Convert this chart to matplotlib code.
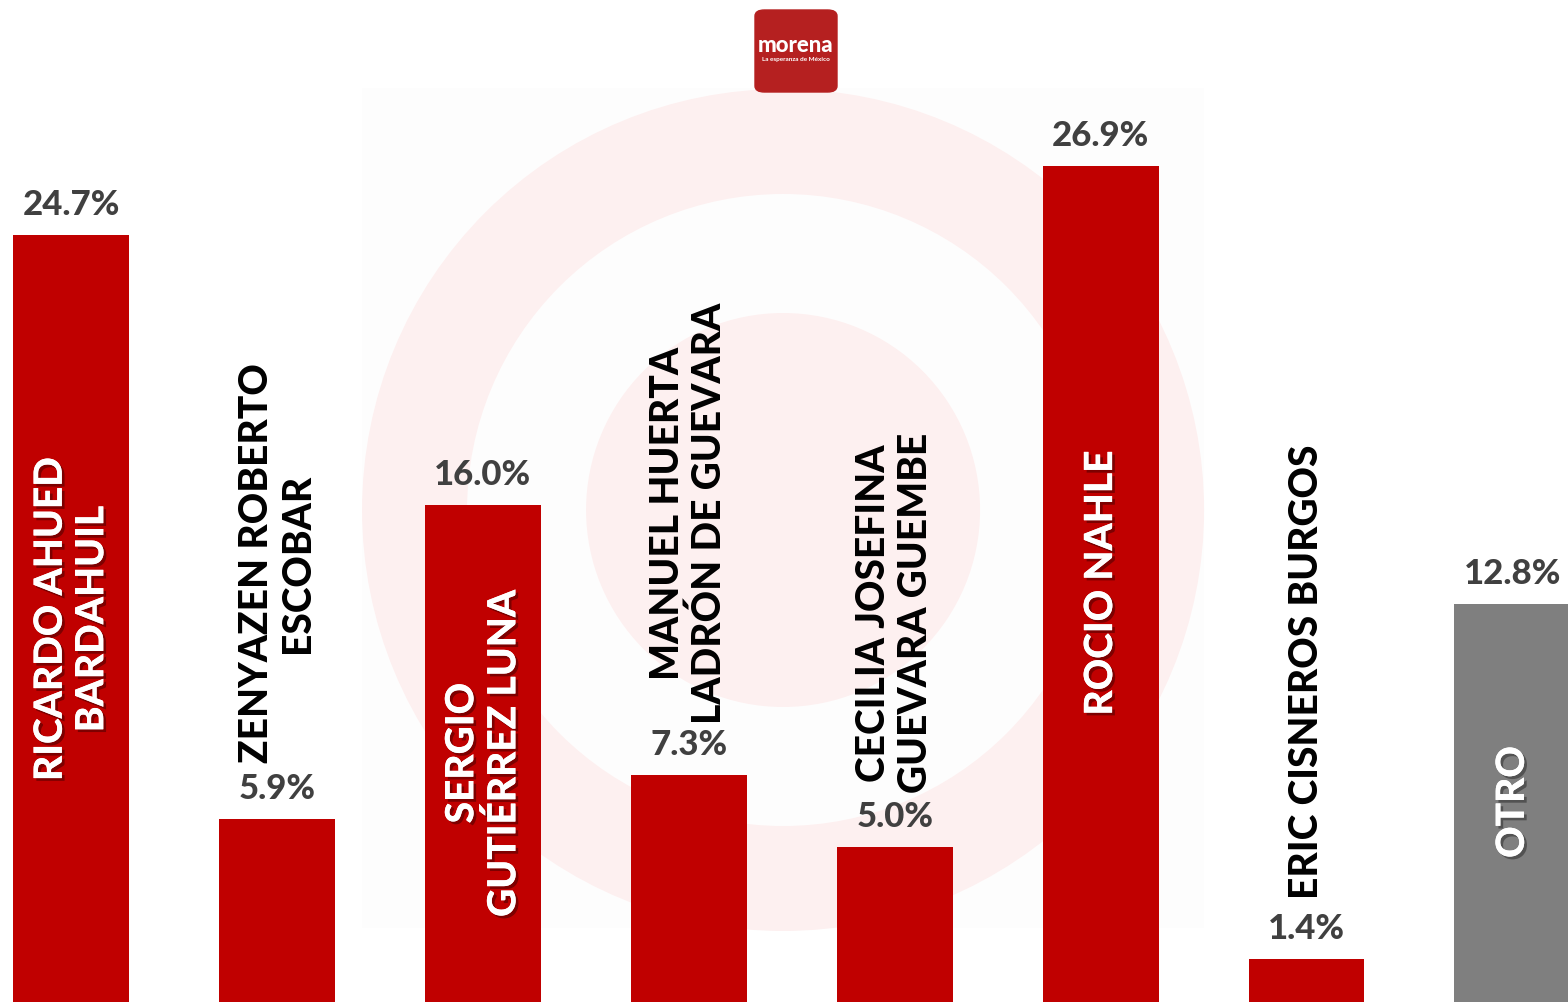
import matplotlib.pyplot as plt
import matplotlib.patheffects as pe
from matplotlib.patches import Rectangle, Ellipse, FancyBboxPatch

names = ['RICARDO AHUED\nBARDAHUIL', 'ZENYAZEN ROBERTO\nESCOBAR', 'SERGIO\nGUTIÉRREZ LUNA',
         'MANUEL HUERTA\nLADRÓN DE GUEVARA', 'CECILIA JOSEFINA\nGUEVARA GUEMBE',
         'ROCIO NAHLE', 'ERIC CISNEROS BURGOS', 'OTRO']
values = [24.7, 5.9, 16.0, 7.3, 5.0, 26.9, 1.4, 12.8]
colors = ['#c00000'] * 7 + ['#7f7f7f']

# name label: inside bar (white) or above (black), and vertical centre (data units)
inside = [True, False, True, False, False, True, False, True]
name_y = [12.33, 14.13, 8.01, 15.74, 12.52, 13.49, 10.62, 6.44]

fig = plt.figure(figsize=(15.68, 10.02), dpi=100)
ax = fig.add_axes([0, 0, 1, 1])
ax.set_xlim(-0.345, 7.27)
ax.set_ylim(0, 32.25)
ax.axis('off')

# background target
sx = 1 / 205.9
sy = 32.25 / 1002
cx, cy = (783 - 71) * sx, (1002 - 510) * sy
ax.add_patch(Rectangle(((362 - 71) * sx, (1002 - 928) * sy), 842 * sx, 840 * sy,
                       color='#fdfdfd', zorder=0, lw=0))
for r, c in [(421, '#fdf0f0'), (316, '#fdfdfd'), (197, '#fdf0f0')]:
    ax.add_patch(Ellipse((cx, cy), 2 * r * sx, 2 * r * sy, color=c, zorder=0, lw=0))

x = list(range(len(values)))
ax.bar(x, values, width=0.563, color=colors, zorder=2)

fam = ['Lato', 'DejaVu Sans']
for i, v in enumerate(values):
    ax.text(i, v + 0.45, f'{v:.1f}%', ha='center', va='bottom', fontsize=25,
            fontweight='black', family=fam, color='#404040', zorder=3)
    t = ax.text(i, name_y[i], names[i], rotation=90, ha='center', va='center',
                multialignment='center', fontsize=28, fontweight='black', family=fam,
                color='white' if inside[i] else 'black', linespacing=1.15, zorder=3)
    if inside[i]:
        t.set_path_effects([pe.withSimplePatchShadow(offset=(2, -2), shadow_rgbFace='#000000', alpha=0.35),
                            pe.Normal()])

# logo
logo = FancyBboxPatch((755 / 1568, (1002 - 92) / 1002), 82 / 1568, 82 / 1002,
                      boxstyle='round,pad=0,rounding_size=0.006', transform=fig.transFigure,
                      color='#b52020', zorder=5)
fig.patches.append(logo)
fig.text(796 / 1568, 1 - 46 / 1002, 'morena', ha='center', va='center', color='white',
         fontsize=16, fontweight='black', family=fam, zorder=6)
fig.text(796 / 1568, 1 - 59 / 1002, 'La esperanza de México', ha='center', va='center',
         color='white', fontsize=4.6, fontweight='bold', family=fam, zorder=6)

plt.savefig('out.png')
